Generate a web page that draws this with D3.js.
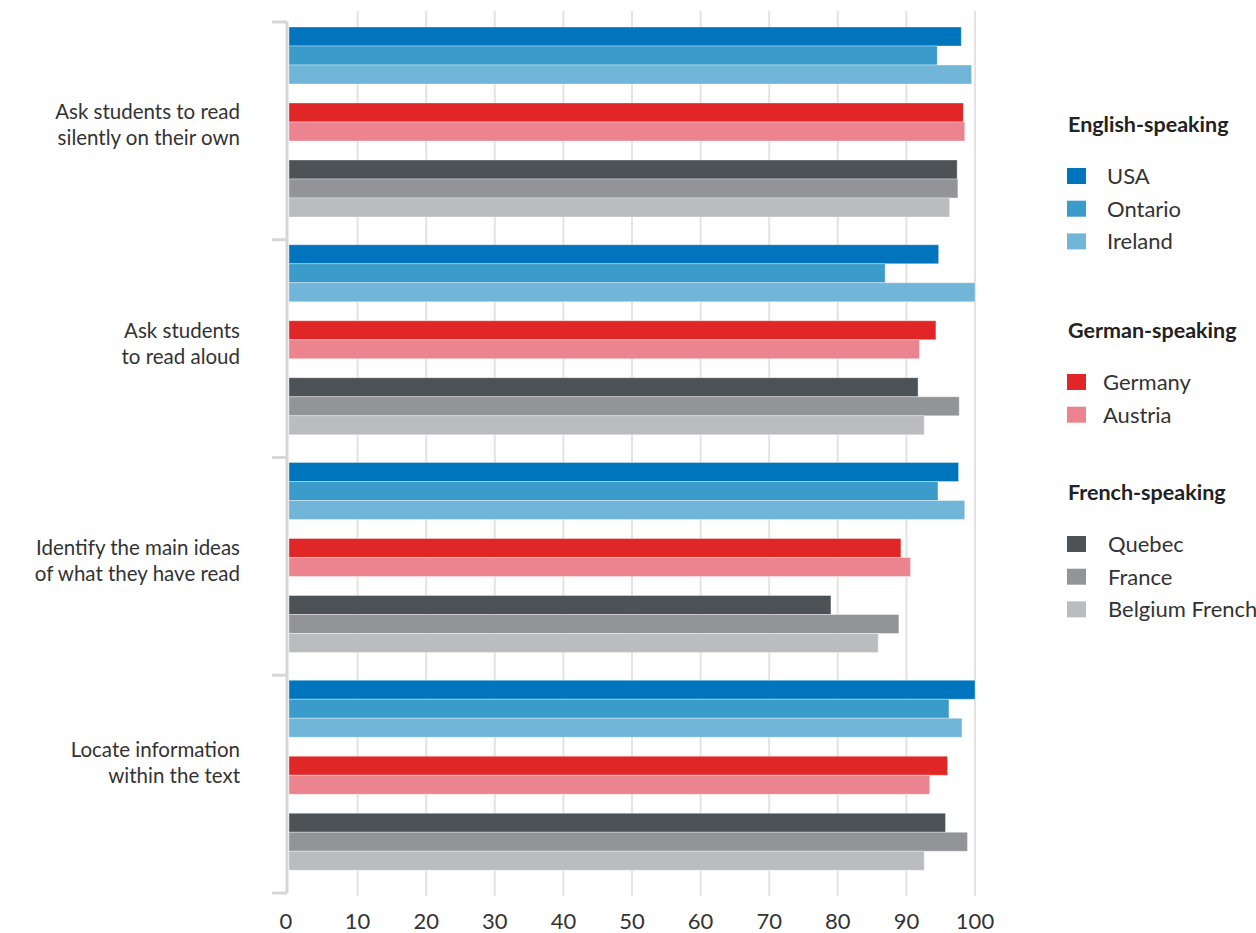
<!DOCTYPE html>
<html>
<head>
<meta charset="utf-8">
<script src="https://cdn.jsdelivr.net/npm/d3@7"></script>
<style>
    body { margin: 0; background: #fff; }
    text { font-family: Lato, "Open Sans", sans-serif; }
</style>
</head>
<body>
<svg id="chart" width="1256" height="933"></svg>
<script>
// Categories (two-line labels)
const categories = [
    ["Ask students to read", "silently on their own"],
    ["Ask students", "to read aloud"],
    ["Identify the main ideas", "of what they have read"],
    ["Locate information", "within the text"]
];

// Series per country, values in category order
const usa = [98.0, 94.7, 97.6, 100];
const ontario = [94.5, 86.9, 94.6, 96.2];
const ireland = [99.5, 100, 98.5, 98.1];
const germany = [98.3, 94.3, 89.2, 96.0];
const austria = [98.5, 91.9, 90.6, 93.4];
const quebec = [97.4, 91.7, 79.0, 95.7];
const france = [97.5, 97.7, 88.9, 98.9];
const belgiumFrench = [96.3, 92.6, 85.9, 92.6];

const xTicks = [0, 10, 20, 30, 40, 50, 60, 70, 80, 90, 100];

const legendGroups = [
    { title: "English-speaking", items: ["USA", "Ontario", "Ireland"] },
    { title: "German-speaking", items: ["Germany", "Austria"] },
    { title: "French-speaking", items: ["Quebec", "France", "Belgium French"] }
];

const series = [
    { name: "USA", values: usa, color: "#0075be" },
    { name: "Ontario", values: ontario, color: "#3b9bca" },
    { name: "Ireland", values: ireland, color: "#71b5d8" },
    { name: "Germany", values: germany, color: "#e02626" },
    { name: "Austria", values: austria, color: "#ec848f" },
    { name: "Quebec", values: quebec, color: "#4d5256" },
    { name: "France", values: france, color: "#939497" },
    { name: "Belgium French", values: belgiumFrench, color: "#bbbcc0" }
];

// slot order inside a category, gaps separate language groups
const slots = ["USA", "Ontario", "Ireland", "gap1", "Germany", "Austria", "gap2", "Quebec", "France", "Belgium French"];

const svg = d3.select("#chart");

const x = d3.scaleLinear().domain([0, 100]).range([289, 975]);
const y = d3.scaleBand().domain(categories.map((d, i) => i)).range([22, 893]);
const ySlot = d3.scaleBand().domain(slots).range([5, 195]);

// small vertical nudges of the category labels, as placed in the original
const labelNudge = [3, 4, 4, -12];

// Vertical grid lines
svg.append("g")
    .selectAll("line")
    .data(xTicks.slice(1))
    .join("line")
    .attr("x1", (d) => x(d))
    .attr("x2", (d) => x(d))
    .attr("y1", 11)
    .attr("y2", 896)
    .attr("stroke", "#e3e3e3")
    .attr("stroke-width", 2);

// Bars
const groups = svg.append("g")
    .selectAll("g")
    .data(categories)
    .join("g")
    .attr("transform", (d, i) => `translate(0,${y(i)})`);

groups.each(function (cat, ci) {
    d3.select(this)
        .selectAll("rect")
        .data(series)
        .join("rect")
        .attr("x", x(0))
        .attr("y", (s) => ySlot(s.name))
        .attr("width", (s) => x(s.values[ci]) - x(0))
        .attr("height", ySlot.bandwidth())
        .attr("fill", (s) => s.color)
        .attr("stroke", "rgba(255,255,255,0.35)")
        .attr("stroke-width", 1);
});

// Category labels
groups.append("text")
    .attr("text-anchor", "end")
    .attr("x", 240)
    .attr("y", (d, i) => ySlot.range()[0] + (ySlot.range()[1] - ySlot.range()[0]) / 2 + labelNudge[i])
    .attr("fill", "#333")
    .style("font-size", "20.5px")
    .selectAll("tspan")
    .data((d) => d)
    .join("tspan")
    .attr("x", 240)
    .attr("dy", (d, i) => (i === 0 ? "-0.3em" : "1.27em"))
    .text((d) => d);

// Left axis line with group ticks
svg.append("line")
    .attr("x1", 287).attr("x2", 287)
    .attr("y1", y.range()[0]).attr("y2", y.range()[1])
    .attr("stroke", "#d6d6d6")
    .attr("stroke-width", 3);

svg.append("g")
    .selectAll("line")
    .data(categories.map((d, i) => y(i)).concat([y.range()[1]]))
    .join("line")
    .attr("x1", 272).attr("x2", 287)
    .attr("y1", (d) => d).attr("y2", (d) => d)
    .attr("stroke", "#d6d6d6")
    .attr("stroke-width", 3);

// Bottom tick labels
svg.append("g")
    .selectAll("text")
    .data(xTicks)
    .join("text")
    .attr("x", (d) => (d === 0 ? x(d) - 3 : x(d)))
    .attr("y", 929)
    .attr("text-anchor", "middle")
    .attr("fill", "#333")
    .style("font-size", "22px")
    .text((d) => d);

// Legend
const colorOf = new Map(series.map((s) => [s.name, s.color]));
const legendTops = [132, 338, 500];
const labelOffsets = [39, 35, 40];

legendGroups.forEach((g, gi) => {
    const lg = svg.append("g").attr("transform", `translate(1068,${legendTops[gi]})`);
    lg.append("text")
        .attr("x", 0)
        .attr("y", 0)
        .attr("fill", "#222")
        .style("font-size", "21.5px")
        .style("font-weight", "bold")
        .text(g.title);
    const items = lg.selectAll("g.item")
        .data(g.items)
        .join("g")
        .attr("class", "item")
        .attr("transform", (d, i) => `translate(0,${36 + i * 32.7})`);
    items.append("rect")
        .attr("x", -1)
        .attr("y", 0)
        .attr("width", 19)
        .attr("height", 16)
        .attr("fill", (d) => colorOf.get(d));
    items.append("text")
        .attr("x", labelOffsets[gi])
        .attr("y", 16)
        .attr("fill", "#333")
        .style("font-size", "22px")
        .text((d) => d);
});
</script>
</body>
</html>
